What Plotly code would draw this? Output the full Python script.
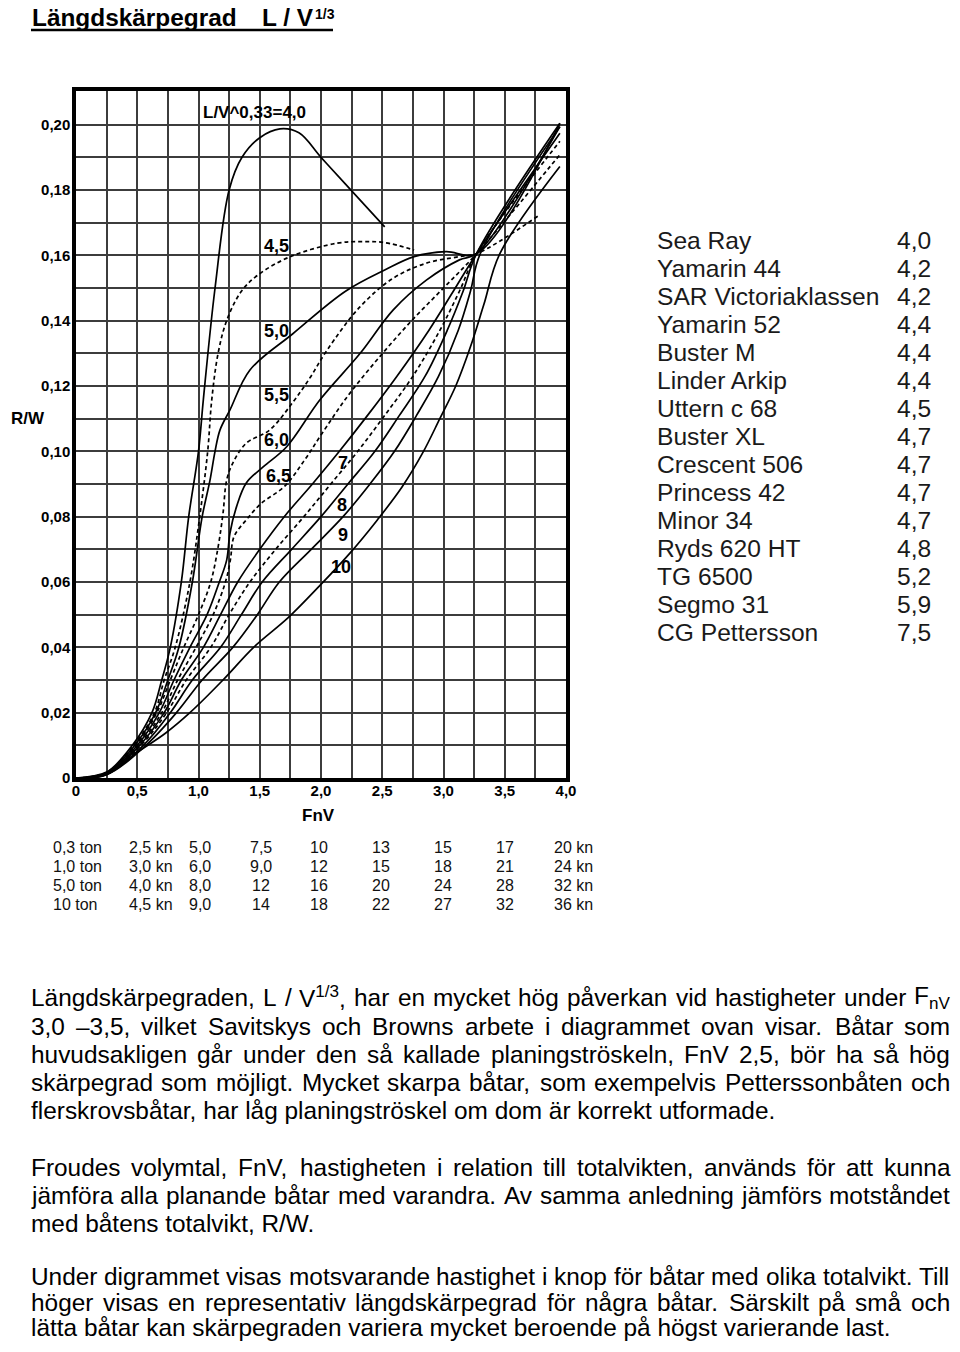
import re
import plotly.graph_objects as go

# ---------------- data ----------------
fnv_40 = [0, 0.25, 0.46, 0.62, 0.70, 0.77, 0.86, 0.92, 1.00, 1.04, 1.135, 1.25, 1.355, 1.50, 1.665, 1.82, 2.00, 2.20, 2.52]
rw_40 = [0, 0.0018, 0.010, 0.020, 0.030, 0.040, 0.060, 0.080, 0.100, 0.116, 0.150, 0.180, 0.190, 0.196, 0.1987, 0.1975, 0.190, 0.1818, 0.1687]

fnv_45 = [0, 0.25, 0.47, 0.64, 0.72, 0.81, 0.93, 1.01, 1.075, 1.108, 1.16, 1.23, 1.35, 1.486, 1.75, 2.13, 2.33, 2.52, 2.76]
rw_45 = [0, 0.0017, 0.010, 0.020, 0.030, 0.040, 0.060, 0.080, 0.100, 0.1157, 0.130, 0.140, 0.149, 0.154, 0.1596, 0.1637, 0.1642, 0.1639, 0.1616]

fnv_50 = [0, 0.25, 0.48, 0.65, 0.75, 0.84, 0.95, 1.03, 1.094, 1.135, 1.175, 1.257, 1.42, 1.77, 2.20, 2.52, 2.76, 3.02, 3.27, 3.95]
rw_50 = [0, 0.0016, 0.010, 0.020, 0.030, 0.040, 0.060, 0.080, 0.0912, 0.100, 0.1065, 0.1127, 0.1249, 0.136, 0.149, 0.1555, 0.1596, 0.1611, 0.1605, 0.2004]

fnv_55 = [0, 0.25, 0.49, 0.66, 0.77, 0.88, 1.00, 1.10, 1.16, 1.20, 1.23, 1.28, 1.39, 1.58, 1.77, 1.91, 2.05, 2.32, 2.59, 2.86, 3.13, 3.27, 3.77]
rw_55 = [0, 0.0015, 0.010, 0.020, 0.030, 0.040, 0.050, 0.060, 0.0707, 0.081, 0.0912, 0.0964, 0.1025, 0.1065, 0.115, 0.1225, 0.131, 0.1443, 0.153, 0.1576, 0.1596, 0.1605, 0.172]

fnv_60 = [0, 0.25, 0.50, 0.68, 0.80, 0.93, 1.07, 1.17, 1.23, 1.257, 1.31, 1.39, 1.53, 1.72, 1.99, 2.32, 2.59, 2.86, 3.13, 3.27, 3.95]
rw_60 = [0, 0.0014, 0.010, 0.020, 0.030, 0.040, 0.050, 0.060, 0.0667, 0.075, 0.083, 0.0903, 0.0953, 0.1014, 0.1157, 0.130, 0.1433, 0.1524, 0.1586, 0.1605, 0.1994]

fnv_65 = [0, 0.25, 0.51, 0.70, 0.83, 0.98, 1.12, 1.22, 1.26, 1.29, 1.39, 1.51, 1.70, 1.86, 2.00, 2.22, 2.48, 2.74, 3.00, 3.27, 3.95]
rw_65 = [0, 0.0013, 0.010, 0.020, 0.030, 0.040, 0.050, 0.060, 0.0667, 0.0739, 0.079, 0.084, 0.0892, 0.097, 0.105, 0.117, 0.129, 0.140, 0.150, 0.1605, 0.1908]

fnv_70 = [0, 0.25, 0.52, 0.72, 0.86, 1.04, 1.18, 1.32, 1.50, 1.70, 1.93, 2.15, 2.38, 2.62, 2.88, 3.08, 3.27, 3.95]
rw_70 = [0, 0.0012, 0.010, 0.020, 0.030, 0.040, 0.050, 0.060, 0.070, 0.080, 0.090, 0.100, 0.111, 0.123, 0.137, 0.149, 0.1605, 0.1974]

fnv_75 = [0, 0.25, 0.53, 0.74, 0.90, 1.10, 1.25, 1.42, 1.63, 1.86, 2.08, 2.30, 2.52, 2.75, 2.97, 3.13, 3.27, 3.95]
rw_75 = [0, 0.0012, 0.010, 0.020, 0.030, 0.040, 0.050, 0.060, 0.070, 0.080, 0.090, 0.100, 0.111, 0.123, 0.137, 0.149, 0.1605, 0.1949]

fnv_80 = [0, 0.25, 0.55, 0.77, 0.95, 1.18, 1.35, 1.52, 1.76, 2.00, 2.22, 2.44, 2.64, 2.85, 3.03, 3.16, 3.27, 3.95]
rw_80 = [0, 0.0011, 0.010, 0.020, 0.030, 0.040, 0.050, 0.060, 0.070, 0.080, 0.090, 0.100, 0.111, 0.123, 0.137, 0.149, 0.1605, 0.2004]

fnv_90 = [0, 0.25, 0.57, 0.82, 1.03, 1.28, 1.48, 1.66, 1.92, 2.18, 2.40, 2.60, 2.78, 2.96, 3.12, 3.22, 3.30, 3.95]
rw_90 = [0, 0.0010, 0.010, 0.020, 0.030, 0.040, 0.050, 0.060, 0.070, 0.080, 0.090, 0.100, 0.111, 0.123, 0.137, 0.149, 0.1605, 0.1994]

fnv_100 = [0, 0.25, 0.49, 0.73, 0.93, 1.20, 1.45, 1.73, 1.98, 2.24, 2.46, 2.66, 2.83, 2.97, 3.10, 3.22, 3.33, 3.46, 3.95]
rw_100 = [0, 0.0011, 0.0076, 0.0137, 0.020, 0.030, 0.040, 0.049, 0.0585, 0.069, 0.079, 0.089, 0.0995, 0.110, 0.120, 0.132, 0.145, 0.1605, 0.1872]

x_ticks = [0, 0.5, 1.0, 1.5, 2.0, 2.5, 3.0, 3.5, 4.0]
x_tick_labels = ["0", "0,5", "1,0", "1,5", "2,0", "2,5", "3,0", "3,5", "4,0"]
y_ticks = [0, 0.02, 0.04, 0.06, 0.08, 0.10, 0.12, 0.14, 0.16, 0.18, 0.20]
y_tick_labels = ["0", "0,02", "0,04", "0,06", "0,08", "0,10", "0,12", "0,14", "0,16", "0,18", "0,20"]

curve_labels = ["L/V^0,33=4,0", "4,5", "5,0", "5,5", "6,0", "6,5", "7", "8", "9", "10"]

boat_names = ["Sea Ray", "Yamarin 44", "SAR Victoriaklassen", "Yamarin 52", "Buster M",
              "Linder Arkip", "Uttern c 68", "Buster XL", "Crescent 506", "Princess 42",
              "Minor 34", "Ryds 620 HT", "TG 6500", "Segmo 31", "CG Pettersson"]
boat_ratios = ["4,0", "4,2", "4,2", "4,4", "4,4", "4,4", "4,5", "4,7", "4,7", "4,7",
               "4,7", "4,8", "5,2", "5,9", "7,5"]

weights = ["0,3 ton", "1,0 ton", "5,0 ton", "10 ton"]
speeds_03 = ["2,5 kn", "5,0", "7,5", "10", "13", "15", "17", "20 kn"]
speeds_10 = ["3,0 kn", "6,0", "9,0", "12", "15", "18", "21", "24 kn"]
speeds_50 = ["4,0 kn", "8,0", "12", "16", "20", "24", "28", "32 kn"]
speeds_100 = ["4,5 kn", "9,0", "14", "18", "22", "27", "32", "36 kn"]

# ---------------- figure ----------------
OFF = 8                                 # browser body margin around the plot div
W, H = 960 - 2 * OFF, 1352 - 2 * OFF    # page (div + margins) == 960 x 1352
FONT = "Liberation Sans, Arial, sans-serif"


def px(x):
    return (x - OFF) / W


def py(y):
    return 1 - (y - OFF) / H


curves = [
    (fnv_40, rw_40, "solid"), (fnv_45, rw_45, "4px,3px"), (fnv_50, rw_50, "solid"),
    (fnv_55, rw_55, "4px,3px"), (fnv_60, rw_60, "solid"), (fnv_65, rw_65, "4px,3px"),
    (fnv_70, rw_70, "solid"), (fnv_75, rw_75, "4px,3px"), (fnv_80, rw_80, "solid"),
    (fnv_90, rw_90, "solid"), (fnv_100, rw_100, "solid"),
]

fig = go.Figure()
for xs, ys, dash in curves:
    fig.add_trace(go.Scatter(
        x=xs, y=ys, mode="lines", hoverinfo="skip", showlegend=False,
        line=dict(color="black", width=1.7, dash=dash, shape="spline", smoothing=1.0),
    ))

GRID = "#3c3c3c"
fig.update_layout(
    width=W, height=H, margin=dict(l=0, r=0, t=0, b=0, autoexpand=False),
    paper_bgcolor="white", plot_bgcolor="white", showlegend=False,
    xaxis=dict(
        domain=[px(76), px(566)], range=[0, 4], tickvals=x_ticks, ticktext=x_tick_labels,
        showgrid=True, gridcolor=GRID, gridwidth=1.6, zeroline=False, automargin=False,
        minor=dict(dtick=0.25, tick0=0, showgrid=True, gridcolor=GRID, gridwidth=1.6),
        showline=True, linewidth=3.5, linecolor="black", mirror=True, ticks="",
        ticklabelstandoff=-4,
        tickfont=dict(family=FONT, size=15, color="black", weight="bold"),
        fixedrange=True,
    ),
    yaxis=dict(
        domain=[py(778), py(91)], range=[0, 0.2103], tickvals=y_ticks, ticktext=y_tick_labels,
        showgrid=True, gridcolor=GRID, gridwidth=1.6, zeroline=False, automargin=False,
        minor=dict(dtick=0.01, tick0=0, showgrid=True, gridcolor=GRID, gridwidth=1.6),
        showline=True, linewidth=3.5, linecolor="black", mirror=True, ticks="",
        ticklabelstandoff=-1,
        tickfont=dict(family=FONT, size=15, color="black", weight="bold"),
        fixedrange=True,
    ),
)

ann = []
# curve labels (data coordinates)
label_pos = [(1.02, 0.2036, "left"), (1.64, 0.1629, "center"), (1.64, 0.1368, "center"),
             (1.64, 0.1172, "center"), (1.64, 0.1035, "center"), (1.65, 0.0924, "center"),
             (2.18, 0.0964, "center"), (2.17, 0.0836, "center"), (2.18, 0.0744, "center"),
             (2.16, 0.0646, "center")]
for text, (lx, ly, anc) in zip(curve_labels, label_pos):
    ann.append(dict(x=lx, y=ly, xref="x", yref="y", text=text, showarrow=False,
                    xanchor=anc, yanchor="middle",
                    font=dict(family=FONT, size=17 if anc == "left" else 18, color="black", weight="bold")))

# axis titles
ann.append(dict(x=px(28), y=py(418), xref="paper", yref="paper", text="R/W", showarrow=False,
                xanchor="center", yanchor="middle", font=dict(family=FONT, size=17, color="black", weight="bold")))
ann.append(dict(x=px(318), y=py(815), xref="paper", yref="paper", text="FnV", showarrow=False,
                xanchor="center", yanchor="middle", font=dict(family=FONT, size=17, color="black", weight="bold")))

# title (kept inside the drawable area of the page)
ann.append(dict(x=px(30), y=py(17), xref="paper", yref="paper", text="Längdskärpegrad", showarrow=False,
                xanchor="left", yanchor="middle",
                font=dict(family=FONT, size=24.4, color="black", weight="bold")))
ann.append(dict(x=px(260), y=py(17), xref="paper", yref="paper", text="L / V", showarrow=False,
                xanchor="left", yanchor="middle",
                font=dict(family=FONT, size=24.4, color="black", weight="bold")))
ann.append(dict(x=px(313), y=py(14), xref="paper", yref="paper", text="1/3", showarrow=False,
                xanchor="left", yanchor="middle",
                font=dict(family=FONT, size=14, color="black", weight="bold")))

# boat table
for i, (name, val) in enumerate(zip(boat_names, boat_ratios)):
    yy = 240 + i * 28.07
    ann.append(dict(x=px(655), y=py(yy), xref="paper", yref="paper", text=name, showarrow=False,
                    xanchor="left", yanchor="middle", font=dict(family=FONT, size=24.6, color="#1a1a1a")))
    ann.append(dict(x=px(895), y=py(yy), xref="paper", yref="paper", text=val, showarrow=False,
                    xanchor="left", yanchor="middle", font=dict(family=FONT, size=24.6, color="#1a1a1a")))

# speed table under the chart
speed_rows = [speeds_03, speeds_10, speeds_50, speeds_100]
col_pos = [(127, "left"), (187, "left"), (261, "center"), (319, "center"), (381, "center"),
           (443, "center"), (505, "center"), (552, "left")]
for r, (wt, row) in enumerate(zip(weights, speed_rows)):
    yy = 847 + r * 19.2
    ann.append(dict(x=px(51), y=py(yy), xref="paper", yref="paper", text=wt, showarrow=False,
                    xanchor="left", yanchor="middle", font=dict(family=FONT, size=16, color="#111")))
    for (cx, anc), val in zip(col_pos, row):
        ann.append(dict(x=px(cx), y=py(yy), xref="paper", yref="paper", text=val, showarrow=False,
                        xanchor=anc, yanchor="middle", font=dict(family=FONT, size=16, color="#111")))

# paragraph text (justified by word placement)
AW = {' ': 278, ',': 278, '.': 278, '/': 278, '–': 556, '-': 333, ':': 278,
      'a': 556, 'b': 556, 'c': 500, 'd': 556, 'e': 556, 'f': 278, 'g': 556, 'h': 556, 'i': 222,
      'j': 222, 'k': 500, 'l': 222, 'm': 833, 'n': 556, 'o': 556, 'p': 556, 'q': 556, 'r': 333,
      's': 500, 't': 278, 'u': 556, 'v': 500, 'w': 722, 'x': 500, 'y': 500, 'z': 500,
      'A': 667, 'B': 667, 'C': 722, 'D': 722, 'E': 667, 'F': 611, 'G': 778, 'H': 722, 'I': 278,
      'J': 500, 'K': 667, 'L': 556, 'M': 833, 'N': 722, 'O': 778, 'P': 667, 'Q': 778, 'R': 722,
      'S': 667, 'T': 611, 'U': 722, 'V': 667, 'W': 944, 'X': 667, 'Y': 667, 'Z': 611,
      'å': 556, 'ä': 556, 'ö': 556, 'Å': 667, 'Ä': 667, 'Ö': 778}


def plain_w(s, size):
    return sum(AW.get(c, 556) for c in s) * size / 1000


def word_w(word, size):
    total = 0
    for part in re.split(r"(<su[pb]>.*?</su[pb]>)", word):
        if part.startswith("<su"):
            total += plain_w(re.sub(r"<.*?>", "", part), size * 0.7)
        else:
            total += plain_w(part, size)
    return total


PSIZE = 24.4
LEFT, RIGHT = 31, 950
para_lines = [
    ("Längdskärpegraden, L / V<sup>1/3</sup>, har en mycket hög påverkan vid hastigheter under F<sub>nV</sub>", True, 997),
    ("3,0 –3,5, vilket Savitskys och Browns arbete i diagrammet ovan visar. Båtar som", True, 1026),
    ("huvudsakligen går under den så kallade planingströskeln, FnV 2,5, bör ha så hög", True, 1054),
    ("skärpegrad som möjligt. Mycket skarpa båtar, som exempelvis Petterssonbåten och", True, 1082),
    ("flerskrovsbåtar, har låg planingströskel om dom är korrekt utformade.", False, 1110),
    ("Froudes volymtal, FnV, hastigheten i relation till totalvikten, används för att kunna", True, 1167),
    ("jämföra alla planande båtar med varandra. Av samma anledning jämförs motståndet", True, 1195),
    ("med båtens totalvikt, R/W.", False, 1223),
    ("Under digrammet visas motsvarande hastighet i knop för båtar med olika totalvikt. Till", True, 1276),
    ("höger visas en representativ längdskärpegrad för några båtar. Särskilt på små och", True, 1302),
    ("lätta båtar kan skärpegraden variera mycket beroende på högst varierande last.", False, 1327),
]
for text, justify, yy in para_lines:
    if not justify:
        ann.append(dict(x=px(LEFT - 2), y=py(yy), xref="paper", yref="paper", text=text, showarrow=False,
                        xanchor="left", yanchor="middle", font=dict(family=FONT, size=PSIZE, color="black")))
        continue
    words = text.split(" ")
    widths = [word_w(w, PSIZE) for w in words]
    gap = (RIGHT - LEFT - sum(widths)) / (len(words) - 1)
    xcur = LEFT
    for w, wd in zip(words, widths):
        ann.append(dict(x=px(xcur - 2), y=py(yy), xref="paper", yref="paper", text=w, showarrow=False,
                        xanchor="left", yanchor="middle", font=dict(family=FONT, size=PSIZE, color="black")))
        xcur += wd + gap

fig.update_layout(annotations=ann)

# title underline
fig.add_shape(type="line", xref="paper", yref="paper", x0=px(31), x1=px(333), y0=py(30), y1=py(30),
              line=dict(color="black", width=2.5))

fig.write_html("out.html")
